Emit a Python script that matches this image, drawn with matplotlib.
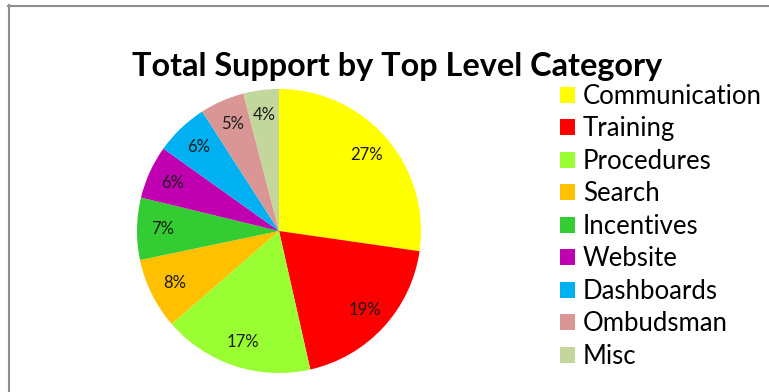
import matplotlib
matplotlib.use("Agg")
from matplotlib import pyplot as plt
from matplotlib.lines import Line2D

plt.rcParams['font.family'] = ['Lato', 'DejaVu Sans']

categories = ['Communication', 'Training', 'Procedures', 'Search', 'Incentives',
              'Website', 'Dashboards', 'Ombudsman', 'Misc']
shares = [27, 19, 17, 8, 7, 6, 6, 5, 4]
colors = ['#FFFF00', '#FF0000', '#99FF33', '#FFC000', '#33CC33',
          '#C000B0', '#00B0F0', '#D99694', '#C3D69B']

W, H = 769, 392
fig = plt.figure(figsize=(W / 100, H / 100), dpi=100)

# pie sits in a square box centred at (279, 231) px, radius 142 px
cx, cy, r = 279, 231, 142
ax = fig.add_axes([(cx - r) / W, (H - cy - r) / H, 2 * r / W, 2 * r / H])
total = sum(shares)
wedges, _, autotexts = ax.pie(
    shares, colors=colors, startangle=90, counterclock=False,
    autopct=lambda p: '{:.0f}%'.format(p * total / 100),
    pctdistance=0.82, wedgeprops=dict(linewidth=0),
    textprops=dict(fontsize=12, color='#1a1a1a'))
ax.set_xlim(-1, 1)
ax.set_ylim(-1, 1)

fig.text(397 / W, 1 - 76 / H, 'Total Support by Top Level Category',
         ha='center', va='baseline', fontsize=23.3, fontweight='bold', color='black')

fig.legend(wedges, categories, loc='upper left',
           bbox_to_anchor=(560 / W, 1 - 84 / H), frameon=False,
           fontsize=18.5, handlelength=0.58, handleheight=0.58,
           handletextpad=0.31, labelspacing=0.29, borderpad=0, borderaxespad=0)

# grey frame along the top and left edge
fig.add_artist(Line2D([8 / W, 1], [1 - 5.5 / H] * 2, color='#8e8e8e', lw=1.5))
fig.add_artist(Line2D([9 / W] * 2, [0, 1 - 5 / H], color='#8e8e8e', lw=1.5))

fig.savefig('out.png', dpi=100)
